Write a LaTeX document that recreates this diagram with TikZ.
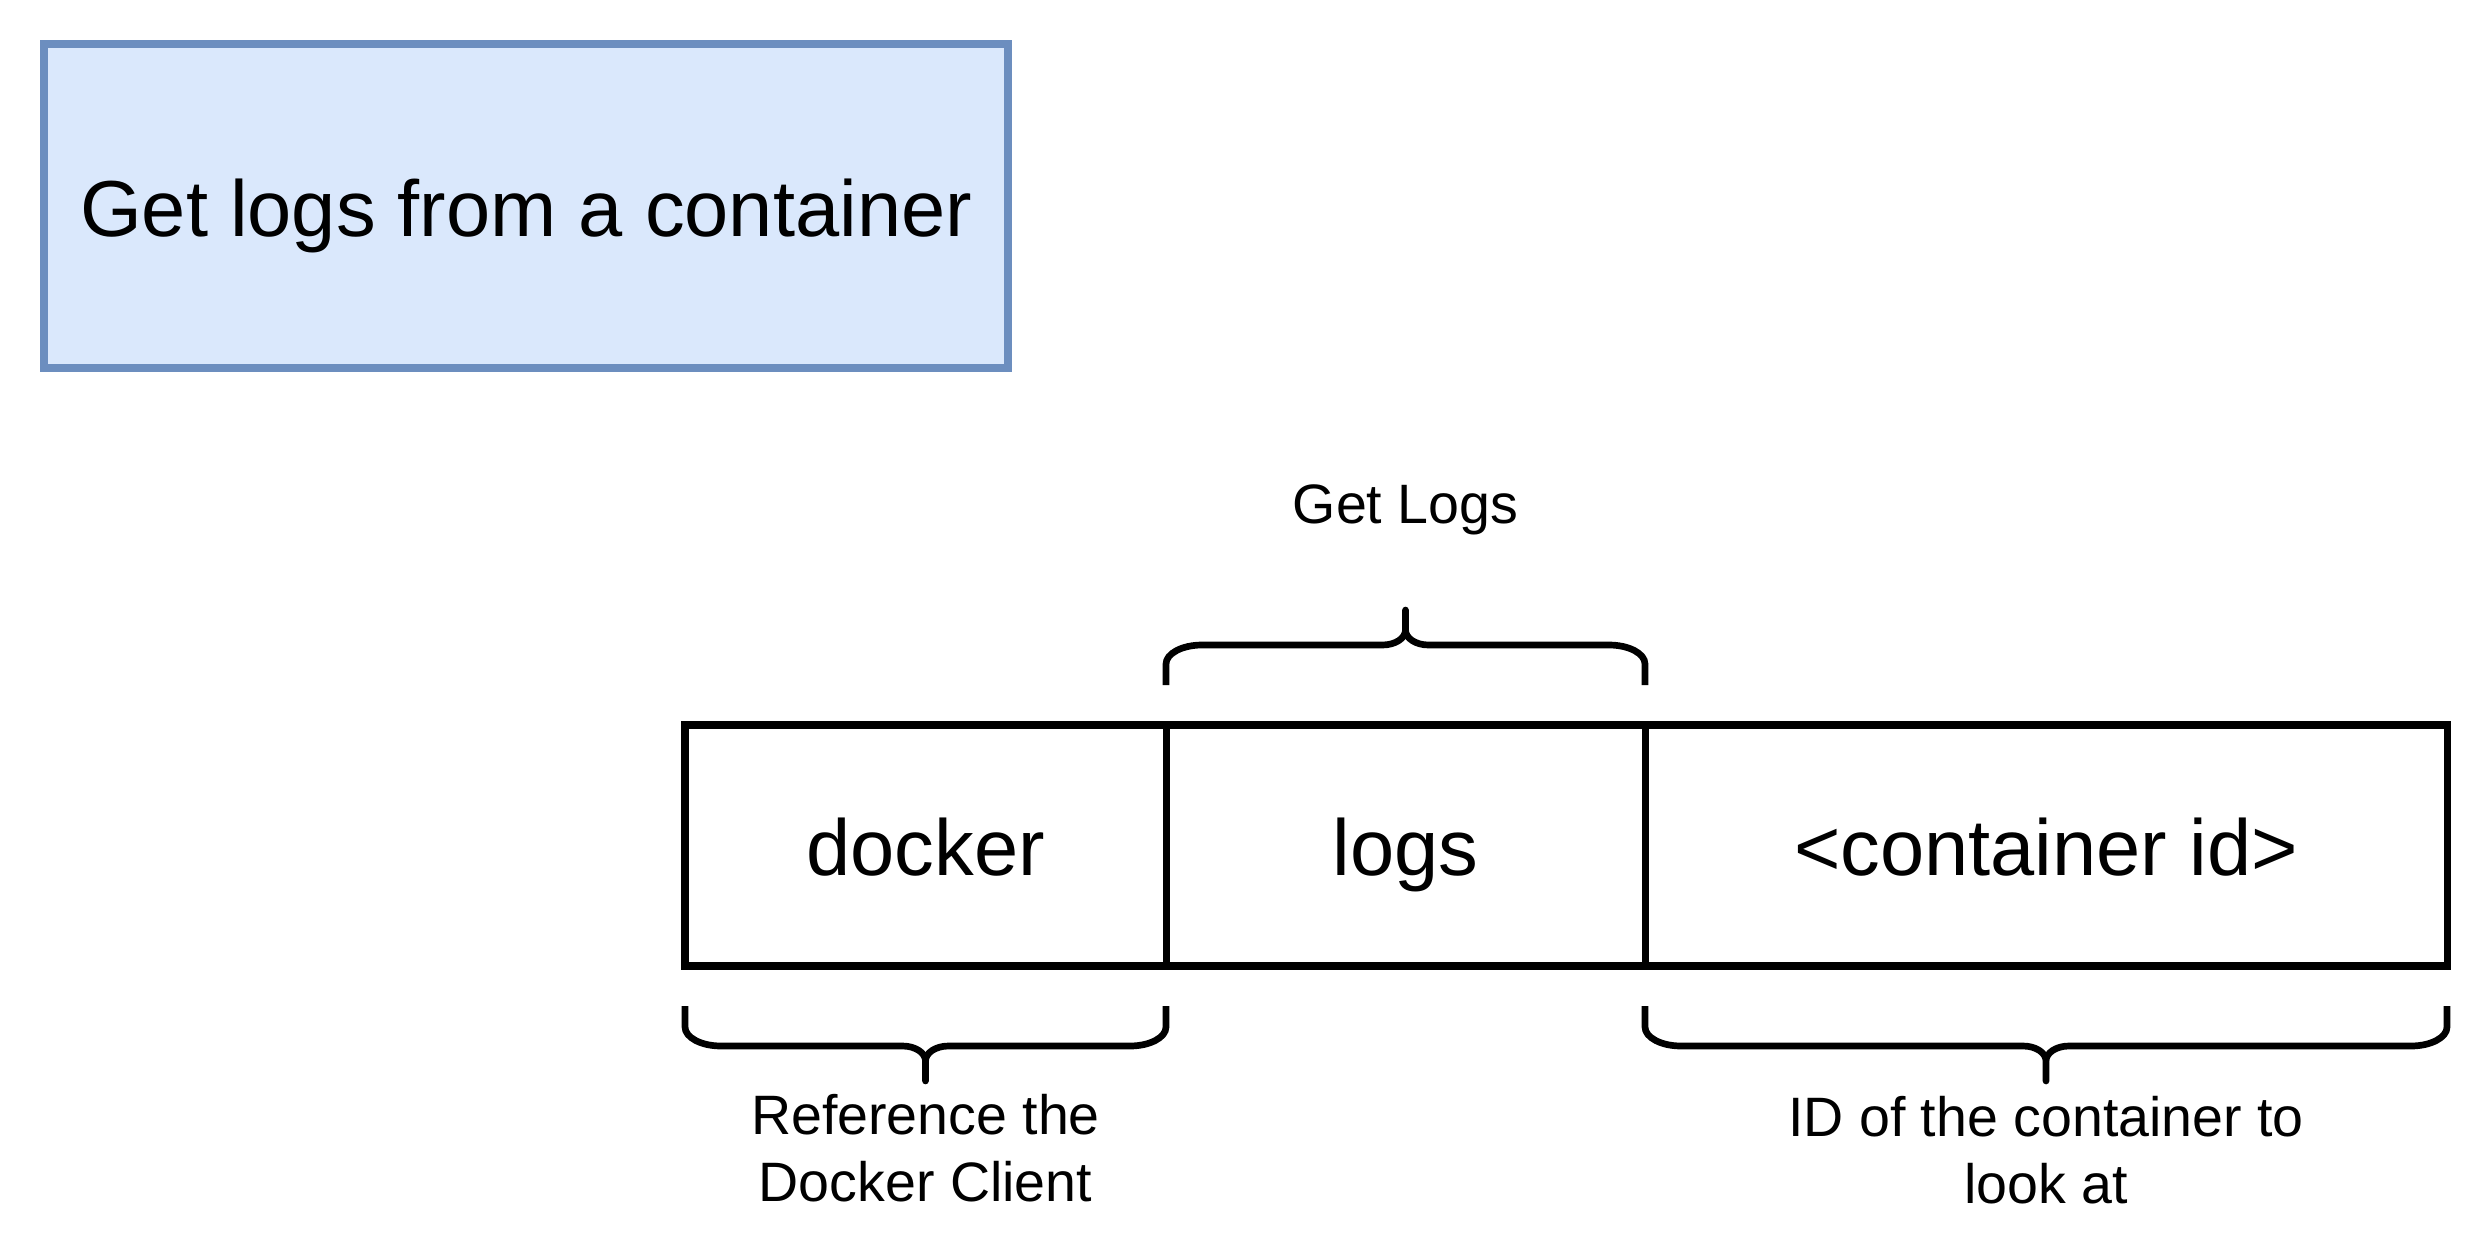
\documentclass[tikz,border=0pt]{standalone}
\usepackage{fontspec}
\setmainfont{Liberation Sans}
\usetikzlibrary{calc,positioning}
\definecolor{titlefill}{HTML}{DAE8FC}
\definecolor{titleline}{HTML}{6C8EBF}

\begin{document}
\begin{tikzpicture}[
		big/.style={font=\fontsize{22.6}{27}\selectfont, text height=18pt, text depth=0.7pt},
		part/.style={big, draw, line width=2pt, outer sep=0pt, minimum height=2.41cm},
		brace/.style={line width=1.9pt, line join=round},
		note/.style={align=center, font=\fontsize{15.8}{19}\selectfont}
	]
	\useasboundingbox (0,0) rectangle (24.88,-12.56);

	\node[big, draw=titleline, fill=titlefill, line width=2pt, minimum width=9.64cm, minimum height=3.24cm]
		(title) at (5.26,-2.06) {Get logs from a container};

	% the command, split in parts
	\node[part, minimum width=4.81cm] (docker) at (9.255,-8.455) {docker};
	\node[part, minimum width=4.79cm, right=0pt of docker] (logs) {logs};
	\node[part, minimum width=8.02cm, right=0pt of logs] (cid) {<container id>};

	% brace over logs
	\draw[brace] ($(logs.north west) + (0,0.4)$) -- ($(logs.north west) + (0,0.61)$)
			arc [start angle=180, end angle=90, x radius=0.36, y radius=0.19] --
			($(logs.north) + (-0.23,0.8)$) arc [start angle=270, end angle=360, x radius=0.23, y radius=0.15] --
			($(logs.north) + (0,1.15)$) -- ($(logs.north) + (0,0.95)$)
			arc [start angle=180, end angle=270, x radius=0.23, y radius=0.15] --
			($(logs.north east) + (-0.36,0.8)$) arc [start angle=90, end angle=0, x radius=0.36, y radius=0.19] --
			($(logs.north east) + (0,0.4)$);
	\node[note] (getlogs) at ($(logs.north) + (0,2.15)$) {Get Logs};

	% brace under docker
	\draw[brace] ($(docker.south west) + (0,-0.4)$) -- ($(docker.south west) + (0,-0.61)$)
			arc [start angle=180, end angle=270, x radius=0.36, y radius=0.19] --
			($(docker.south) + (-0.23,-0.8)$) arc [start angle=90, end angle=0, x radius=0.23, y radius=0.15] --
			($(docker.south) + (0,-1.15)$) -- ($(docker.south) + (0,-0.95)$)
			arc [start angle=180, end angle=90, x radius=0.23, y radius=0.15] --
			($(docker.south east) + (-0.36,-0.8)$) arc [start angle=270, end angle=360, x radius=0.36, y radius=0.19] --
			($(docker.south east) + (0,-0.4)$);
	\node[note] (client) at ($(docker.south) + (0,-1.82)$) {Reference the\\Docker Client};

	% brace under the container id
	\draw[brace] ($(cid.south west) + (0,-0.4)$) -- ($(cid.south west) + (0,-0.61)$)
			arc [start angle=180, end angle=270, x radius=0.36, y radius=0.19] --
			($(cid.south) + (-0.23,-0.8)$) arc [start angle=90, end angle=0, x radius=0.23, y radius=0.15] --
			($(cid.south) + (0,-1.15)$) -- ($(cid.south) + (0,-0.95)$)
			arc [start angle=180, end angle=90, x radius=0.23, y radius=0.15] --
			($(cid.south east) + (-0.36,-0.8)$) arc [start angle=270, end angle=360, x radius=0.36, y radius=0.19] --
			($(cid.south east) + (0,-0.4)$);
	\node[note] (idnote) at ($(cid.south) + (0,-1.84)$) {ID of the container to\\look at};
\end{tikzpicture}
\end{document}
